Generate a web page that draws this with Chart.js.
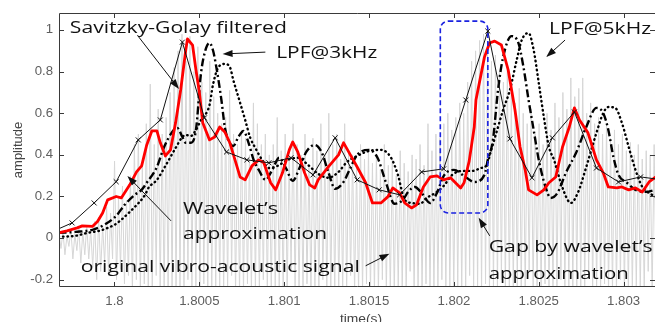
<!DOCTYPE html>
<html>
<head>
<meta charset="utf-8">
<script src="https://cdn.jsdelivr.net/npm/chart.js@4.4.1/dist/chart.umd.min.js"></script>
<style>
  html, body { margin: 0; padding: 0; background: #fff; }
  #wrap { width: 660px; height: 322px; }
</style>
</head>
<body>
<div id="wrap"><canvas id="chart" width="660" height="322"></canvas></div>
<script>
// tick values
const xTicks = [1.8, 1.8005, 1.801, 1.8015, 1.802, 1.8025, 1.803];
const yTicks = [-0.2, 0, 0.2, 0.4, 0.6, 0.8, 1];

// wavelet approximation (black, x markers)
const waveT = [1.79963, 1.79975, 1.79988, 1.80001, 1.80014, 1.80027, 1.80040, 1.80053, 1.80066, 1.80078,
  1.80091, 1.80104, 1.80117, 1.80130, 1.80143, 1.80156, 1.80168, 1.80181, 1.80194, 1.80207,
  1.80220, 1.80233, 1.80246, 1.80258, 1.80271, 1.80284, 1.80297, 1.80310, 1.80323];
const waveY = [0.030, 0.073, 0.169, 0.271, 0.472, 0.568, 0.942, 0.578, 0.414, 0.376,
  0.362, 0.386, 0.304, 0.482, 0.280, 0.232, 0.208, 0.318, 0.333, 0.664,
  0.995, 0.477, 0.290, 0.482, 0.606, 0.337, 0.270, 0.294, 0.280];

// Savitzky-Golay filtered (red)
const sgT = [1.79967, 1.79972, 1.79978, 1.79981, 1.79987, 1.79990, 1.79993, 1.79996, 1.80001, 1.80004,
  1.80009, 1.80013, 1.80016, 1.80019, 1.80022, 1.80025, 1.80027, 1.80030, 1.80033, 1.80036,
  1.80039, 1.80042, 1.80043, 1.80046, 1.80048, 1.80050, 1.80052, 1.80056, 1.80059, 1.80062,
  1.80065, 1.80068, 1.80071, 1.80074, 1.80077, 1.80081, 1.80085, 1.80088, 1.80092, 1.80095,
  1.80099, 1.80103, 1.80105, 1.80108, 1.80112, 1.80115, 1.80118, 1.80120, 1.80126, 1.80132,
  1.80135, 1.80139, 1.80143, 1.80148, 1.80152, 1.80157, 1.80161, 1.80164, 1.80168, 1.80171,
  1.80175, 1.80178, 1.80182, 1.80186, 1.80190, 1.80194, 1.80198, 1.80204, 1.80206, 1.80209,
  1.80212, 1.80213, 1.80218, 1.80221, 1.80224, 1.80228, 1.80232, 1.80236, 1.80239, 1.80242,
  1.80244, 1.80249, 1.80253, 1.80256, 1.80260, 1.80264, 1.80268, 1.80271, 1.80274, 1.80279,
  1.80284, 1.80288, 1.80291, 1.80296, 1.80299, 1.80303, 1.80307, 1.80311, 1.80315, 1.80319];
const sgY = [0.025, 0.035, 0.049, 0.059, 0.056, 0.080, 0.121, 0.184, 0.200, 0.193,
  0.256, 0.318, 0.347, 0.448, 0.515, 0.515, 0.458, 0.395, 0.424, 0.554,
  0.712, 0.904, 0.957, 0.928, 0.808, 0.702, 0.554, 0.472, 0.486, 0.534,
  0.510, 0.458, 0.376, 0.294, 0.280, 0.347, 0.376, 0.362, 0.266, 0.232,
  0.314, 0.424, 0.462, 0.414, 0.314, 0.256, 0.241, 0.280, 0.342, 0.400,
  0.458, 0.400, 0.342, 0.266, 0.169, 0.169, 0.198, 0.241, 0.217, 0.169,
  0.145, 0.160, 0.246, 0.294, 0.299, 0.280, 0.290, 0.241, 0.266, 0.370,
  0.534, 0.664, 0.870, 0.938, 0.947, 0.928, 0.808, 0.616, 0.438, 0.328,
  0.232, 0.208, 0.232, 0.266, 0.294, 0.438, 0.534, 0.626, 0.568, 0.506,
  0.376, 0.314, 0.246, 0.241, 0.246, 0.232, 0.241, 0.222, 0.270, 0.294];

// LPF @ 3kHz (dash-dot)
const lpf3T = [1.79967, 1.79977, 1.79987, 1.79994, 1.80001, 1.80006, 1.80012, 1.80016, 1.80019, 1.80025,
  1.80029, 1.80034, 1.80037, 1.80040, 1.80042, 1.80045, 1.80048, 1.80051, 1.80054, 1.80056,
  1.80058, 1.80060, 1.80063, 1.80065, 1.80067, 1.80070, 1.80073, 1.80076, 1.80079, 1.80082,
  1.80085, 1.80089, 1.80093, 1.80097, 1.80101, 1.80105, 1.80109, 1.80113, 1.80118, 1.80122,
  1.80126, 1.80130, 1.80135, 1.80139, 1.80143, 1.80150, 1.80155, 1.80160, 1.80165, 1.80170,
  1.80173, 1.80177, 1.80181, 1.80186, 1.80190, 1.80194, 1.80200, 1.80206, 1.80212, 1.80218,
  1.80220, 1.80223, 1.80226, 1.80229, 1.80234, 1.80238, 1.80241, 1.80244, 1.80247, 1.80250,
  1.80254, 1.80257, 1.80261, 1.80266, 1.80272, 1.80278, 1.80284, 1.80288, 1.80291, 1.80294,
  1.80297, 1.80302, 1.80307, 1.80313, 1.80319];
const lpf3Y = [0.025, 0.030, 0.040, 0.064, 0.107, 0.160, 0.208, 0.232, 0.266, 0.342,
  0.433, 0.510, 0.530, 0.486, 0.458, 0.458, 0.520, 0.794, 0.914, 0.938,
  0.904, 0.822, 0.664, 0.534, 0.472, 0.443, 0.486, 0.515, 0.458, 0.376,
  0.328, 0.280, 0.328, 0.386, 0.337, 0.275, 0.337, 0.414, 0.448, 0.414,
  0.318, 0.237, 0.270, 0.337, 0.400, 0.424, 0.386, 0.266, 0.165, 0.184,
  0.222, 0.246, 0.217, 0.169, 0.217, 0.299, 0.328, 0.299, 0.270, 0.304,
  0.376, 0.472, 0.712, 0.870, 0.971, 0.938, 0.822, 0.664, 0.520, 0.376,
  0.246, 0.193, 0.217, 0.314, 0.410, 0.534, 0.626, 0.601, 0.520, 0.390,
  0.304, 0.266, 0.232, 0.222, 0.232];

// LPF @ 5kHz (dotted)
const lpf5T = [1.79967, 1.79977, 1.79984, 1.79991, 1.79996, 1.80000, 1.80004, 1.80009, 1.80012, 1.80018,
  1.80020, 1.80025, 1.80030, 1.80036, 1.80040, 1.80042, 1.80045, 1.80048, 1.80051, 1.80056,
  1.80058, 1.80061, 1.80065, 1.80068, 1.80070, 1.80073, 1.80077, 1.80080, 1.80083, 1.80087,
  1.80091, 1.80096, 1.80102, 1.80108, 1.80114, 1.80120, 1.80126, 1.80132, 1.80137, 1.80143,
  1.80150, 1.80157, 1.80163, 1.80167, 1.80171, 1.80175, 1.80180, 1.80184, 1.80190, 1.80194,
  1.80199, 1.80205, 1.80211, 1.80216, 1.80219, 1.80222, 1.80225, 1.80229, 1.80233, 1.80237,
  1.80240, 1.80244, 1.80247, 1.80250, 1.80253, 1.80256, 1.80259, 1.80263, 1.80267, 1.80269,
  1.80273, 1.80278, 1.80284, 1.80288, 1.80291, 1.80295, 1.80299, 1.80303, 1.80307, 1.80311,
  1.80315, 1.80319];
const lpf5Y = [0.006, 0.011, 0.025, 0.035, 0.049, 0.064, 0.088, 0.126, 0.150, 0.208,
  0.241, 0.280, 0.347, 0.433, 0.486, 0.496, 0.491, 0.520, 0.568, 0.640,
  0.736, 0.818, 0.837, 0.822, 0.760, 0.678, 0.568, 0.482, 0.433, 0.376,
  0.337, 0.347, 0.376, 0.386, 0.352, 0.309, 0.290, 0.318, 0.366, 0.395,
  0.419, 0.424, 0.386, 0.304, 0.184, 0.169, 0.165, 0.193, 0.222, 0.251,
  0.304, 0.323, 0.323, 0.337, 0.347, 0.424, 0.506, 0.616, 0.712, 0.856,
  0.952, 0.986, 0.904, 0.746, 0.582, 0.438, 0.376, 0.266, 0.184, 0.169,
  0.217, 0.342, 0.506, 0.601, 0.630, 0.626, 0.554, 0.438, 0.328, 0.246,
  0.217, 0.198];

// original vibro-acoustic signal: sample start, spacing, upper and lower swings
const rawT0 = 1.799673;
const rawDt = 0.00002338;
const rawHigh = [0.02, 0.03, 0.01, 0.04, 0.02, 0.05, 0.03, 0.06, 0.04, 0.08,
  0.10, 0.06, 0.15, 0.12, 0.37, 0.20, 0.25, 0.18, 0.30, 0.45,
  0.50, 0.35, 0.55, 0.74, 0.45, 0.62, 0.50, 0.58, 0.70, 0.82,
  0.90, 0.98, 0.85, 0.97, 0.80, 0.92, 0.75, 0.70, 0.85, 0.68,
  0.60, 0.55, 0.58, 0.71, 0.50, 0.45, 0.52, 0.48, 0.40, 0.65,
  0.55, 0.45, 0.50, 0.40, 0.45, 0.58, 0.42, 0.50, 0.38, 0.55,
  0.45, 0.40, 0.50, 0.35, 0.48, 0.42, 0.55, 0.40, 0.60, 0.45,
  0.50, 0.38, 0.55, 0.42, 0.40, 0.35, 0.45, 0.38, 0.42, 0.36,
  0.40, 0.33, 0.45, 0.35, 0.38, 0.30, 0.42, 0.36, 0.32, 0.40,
  0.38, 0.45, 0.35, 0.55, 0.42, 0.50, 0.48, 0.55, 0.60, 0.52,
  0.58, 0.65, 0.60, 0.75, 0.85, 0.90, 0.95, 0.98, 0.90, 0.85,
  0.88, 0.80, 0.75, 0.82, 0.70, 0.65, 0.72, 0.60, 0.55, 0.62,
  0.50, 0.55, 0.45, 0.60, 0.52, 0.65, 0.58, 0.70, 0.62, 0.77,
  0.68, 0.72, 0.77, 0.60, 0.65, 0.55, 0.58, 0.50, 0.55, 0.48,
  0.52, 0.45, 0.50, 0.42, 0.46, 0.40, 0.45, 0.38, 0.42, 0.40, 0.45];
const rawLow = [-0.05, -0.08, -0.04, -0.10, -0.06, -0.12, -0.08, -0.10, -0.14, -0.20,
  -0.16, -0.12, -0.18, -0.10, -0.20, -0.15, -0.22, -0.18, -0.26, -0.20,
  -0.26, -0.22, -0.26, -0.26, -0.18, -0.26, -0.26, -0.24, -0.26, -0.26,
  -0.26, -0.26, -0.20, -0.26, -0.26, -0.26, -0.22, -0.26, -0.26, -0.26,
  -0.24, -0.26, -0.26, -0.18, -0.26, -0.26, -0.26, -0.22, -0.26, -0.26,
  -0.26, -0.20, -0.26, -0.26, -0.26, -0.24, -0.26, -0.26, -0.16, -0.26,
  -0.26, -0.26, -0.22, -0.26, -0.26, -0.26, -0.20, -0.26, -0.26, -0.26,
  -0.24, -0.26, -0.26, -0.18, -0.26, -0.26, -0.26, -0.22, -0.26, -0.26,
  -0.26, -0.20, -0.26, -0.26, -0.26, -0.24, -0.26, -0.26, -0.16, -0.26,
  -0.26, -0.26, -0.22, -0.26, -0.26, -0.26, -0.20, -0.26, -0.26, -0.26,
  -0.24, -0.26, -0.26, -0.18, -0.26, -0.26, -0.26, -0.22, -0.26, -0.26,
  -0.26, -0.20, -0.26, -0.26, -0.26, -0.24, -0.26, -0.26, -0.16, -0.26,
  -0.26, -0.26, -0.22, -0.26, -0.26, -0.26, -0.20, -0.26, -0.26, -0.26,
  -0.24, -0.26, -0.26, -0.18, -0.26, -0.26, -0.26, -0.22, -0.26, -0.26,
  -0.26, -0.20, -0.26, -0.26, -0.26, -0.24, -0.26, -0.26, -0.16, -0.26, -0.26];

// annotations, placed in data units; w = target text width in px
const notes = [
  { text: 'Savitzky-Golay filtered', x: 1.799737, y: 0.986, w: 217 },
  { text: 'LPF@3kHz', x: 1.800953, y: 0.865, w: 101 },
  { text: 'LPF@5kHz', x: 1.802561, y: 0.981, w: 102 },
  { text: 'Wavelet\u2019s', x: 1.800404, y: 0.115, w: 95 },
  { text: 'approximation', x: 1.800404, y: -0.005, w: 144 },
  { text: 'original vibro-acoustic signal', x: 1.799801, y: -0.163, w: 279 },
  { text: 'Gap by wavelet\u2019s', x: 1.802205, y: -0.067, w: 164 },
  { text: 'approximation', x: 1.802205, y: -0.197, w: 140 }
];
const arrows = [
  [1.800135, 0.975, 1.800380, 0.717],
  [1.800889, 0.894, 1.800637, 0.885],
  [1.802655, 0.952, 1.802544, 0.870],
  [1.800333, 0.083, 1.800076, 0.299],
  [1.801480, -0.133, 1.801620, -0.075],
  [1.802211, 0.011, 1.802146, 0.0975]
];
const gapBox = { x1: 1.80192, x2: 1.80220, y1: 1.043, y2: 0.121 };

const toPts = (xs, ys) => xs.map((x, i) => ({ x: x, y: ys[i] }));

const rawPts = [];
rawHigh.forEach((h, i) => {
  rawPts.push({ x: rawT0 + i * rawDt, y: h });
  rawPts.push({ x: rawT0 + (i + 0.5) * rawDt, y: rawLow[i] });
});

function stretchText(ctx, str, x, y, sx) {
  ctx.save();
  ctx.translate(x, y);
  ctx.scale(sx, 1);
  ctx.fillText(str, 0, 0);
  ctx.restore();
}

function drawArrow(ctx, x1, y1, x2, y2) {
  const ang = Math.atan2(y2 - y1, x2 - x1);
  const len = 10, hw = 3.5;
  ctx.beginPath();
  ctx.moveTo(x1, y1);
  ctx.lineTo(x2 - Math.cos(ang) * len * 0.8, y2 - Math.sin(ang) * len * 0.8);
  ctx.stroke();
  ctx.beginPath();
  ctx.moveTo(x2, y2);
  ctx.lineTo(x2 - Math.cos(ang) * len - Math.sin(ang) * hw, y2 - Math.sin(ang) * len + Math.cos(ang) * hw);
  ctx.lineTo(x2 - Math.cos(ang) * len + Math.sin(ang) * hw, y2 - Math.sin(ang) * len - Math.cos(ang) * hw);
  ctx.closePath();
  ctx.fill();
}

const framePlugin = {
  id: 'frame',
  afterDraw(chart) {
    const { ctx, chartArea: a } = chart;
    const xs = chart.scales.x, ys = chart.scales.y;
    ctx.save();

    // axes box (right side falls outside the picture)
    ctx.strokeStyle = '#3a3a3a';
    ctx.lineWidth = 1;
    ctx.beginPath();
    ctx.moveTo(a.right, a.top + 0.5);
    ctx.lineTo(a.left + 0.5, a.top + 0.5);
    ctx.lineTo(a.left + 0.5, a.bottom - 0.5);
    ctx.lineTo(a.right, a.bottom - 0.5);
    ctx.stroke();

    // inward tick marks
    ctx.beginPath();
    xTicks.forEach(v => {
      const px = Math.round(xs.getPixelForValue(v)) + 0.5;
      ctx.moveTo(px, a.bottom); ctx.lineTo(px, a.bottom - 5);
      ctx.moveTo(px, a.top); ctx.lineTo(px, a.top + 5);
    });
    yTicks.forEach(v => {
      const py = Math.round(ys.getPixelForValue(v)) + 0.5;
      ctx.moveTo(a.left, py); ctx.lineTo(a.left + 5, py);
      ctx.moveTo(a.right, py); ctx.lineTo(a.right - 5, py);
    });
    ctx.stroke();

    // tick labels
    ctx.fillStyle = '#5e5e5e';
    ctx.font = '12px "Liberation Sans", Arial, sans-serif';
    ctx.textBaseline = 'alphabetic';
    xTicks.forEach(v => {
      const s = String(+v.toFixed(4));
      const w = ctx.measureText(s).width * 1.1;
      stretchText(ctx, s, xs.getPixelForValue(v) - w / 2, 305, 1.1);
    });
    ctx.textBaseline = 'middle';
    yTicks.forEach(v => {
      const s = String(+v.toFixed(1));
      const w = ctx.measureText(s).width * 1.1;
      stretchText(ctx, s, a.left - 6 - w, ys.getPixelForValue(v), 1.1);
    });

    // axis titles
    ctx.fillStyle = '#444';
    ctx.textBaseline = 'alphabetic';
    const tw = ctx.measureText('time(s)').width * 1.15;
    stretchText(ctx, 'time(s)', 361 - tw / 2, 323, 1.15);
    ctx.save();
    ctx.translate(22, 150);
    ctx.rotate(-Math.PI / 2);
    ctx.textAlign = 'center';
    ctx.font = '13px "Liberation Sans", Arial, sans-serif';
    ctx.fillText('amplitude', 0, 0);
    ctx.restore();

    // gap box
    const bx1 = xs.getPixelForValue(gapBox.x1), bx2 = xs.getPixelForValue(gapBox.x2);
    const by1 = ys.getPixelForValue(gapBox.y1), by2 = ys.getPixelForValue(gapBox.y2);
    const r = 8;
    ctx.strokeStyle = '#1a22e0';
    ctx.lineWidth = 1.6;
    ctx.setLineDash([5, 3]);
    ctx.beginPath();
    ctx.moveTo(bx1 + r, by1);
    ctx.lineTo(bx2 - r, by1);
    ctx.arcTo(bx2, by1, bx2, by1 + r, r);
    ctx.lineTo(bx2, by2 - r);
    ctx.arcTo(bx2, by2, bx2 - r, by2, r);
    ctx.lineTo(bx1 + r, by2);
    ctx.arcTo(bx1, by2, bx1, by2 - r, r);
    ctx.lineTo(bx1, by1 + r);
    ctx.arcTo(bx1, by1, bx1 + r, by1, r);
    ctx.stroke();
    ctx.setLineDash([]);

    // annotation arrows and texts
    ctx.strokeStyle = '#111';
    ctx.fillStyle = '#111';
    ctx.lineWidth = 1;
    arrows.forEach(([x1, y1, x2, y2]) => {
      drawArrow(ctx, xs.getPixelForValue(x1), ys.getPixelForValue(y1),
        xs.getPixelForValue(x2), ys.getPixelForValue(y2));
    });
    ctx.font = '17px "Open Sans", sans-serif';
    ctx.textBaseline = 'alphabetic';
    notes.forEach(n => {
      const sx = n.w / ctx.measureText(n.text).width;
      stretchText(ctx, n.text, xs.getPixelForValue(n.x), ys.getPixelForValue(n.y), sx);
    });
    ctx.restore();
  }
};

const ctx = document.getElementById('chart').getContext('2d');
new Chart(ctx, {
  type: 'line',
  data: {
    datasets: [
      {
        label: 'wavelet approximation',
        data: toPts(waveT, waveY),
        borderColor: '#111', borderWidth: 1,
        pointStyle: 'crossRot', pointRadius: 3.5, pointBorderColor: '#111', pointBorderWidth: 1,
        order: 1
      },
      {
        label: 'Savitzky-Golay',
        data: toPts(sgT, sgY),
        borderColor: '#ff0000', borderWidth: 2.8, pointRadius: 0,
        borderJoinStyle: 'round',
        order: 2
      },
      {
        label: 'LPF@3kHz',
        data: toPts(lpf3T, lpf3Y),
        borderColor: '#000', borderWidth: 2.4, borderDash: [8, 3, 2, 3], pointRadius: 0,
        cubicInterpolationMode: 'monotone',
        order: 3
      },
      {
        label: 'LPF@5kHz',
        data: toPts(lpf5T, lpf5Y),
        borderColor: '#000', borderWidth: 2.4, borderDash: [0.5, 4], borderCapStyle: 'round',
        pointRadius: 0, cubicInterpolationMode: 'monotone',
        order: 4
      },
      {
        label: 'original',
        data: rawPts,
        borderColor: 'rgb(214,214,214)', borderWidth: 1, pointRadius: 0,
        order: 5
      }
    ]
  },
  options: {
    responsive: false,
    animation: false,
    devicePixelRatio: 1,
    layout: { padding: { left: 0, right: 0, top: 13, bottom: 0 } },
    plugins: { legend: { display: false }, tooltip: { enabled: false } },
    scales: {
      x: {
        type: 'linear', min: 1.799673, max: 1.803185,
        grid: { display: false }, border: { display: false },
        ticks: { display: false, stepSize: 0.0005, includeBounds: false },
        afterFit: s => { s.height = 35; }
      },
      y: {
        min: -0.235, max: 1.082,
        grid: { display: false }, border: { display: false },
        ticks: { display: false, stepSize: 0.2, includeBounds: false },
        afterFit: s => { s.width = 59; }
      }
    }
  },
  plugins: [framePlugin]
});
</script>
</body>
</html>
